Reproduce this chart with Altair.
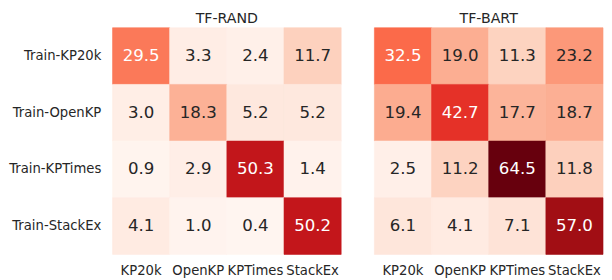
import altair as alt
import pandas as pd

rows = ["Train-KP20k", "Train-OpenKP", "Train-KPTimes", "Train-StackEx"]
cols = ["KP20k", "OpenKP", "KPTimes", "StackEx"]
panels = ["TF-RAND", "TF-BART"]
rand_vals = [
    [29.5, 3.3, 2.4, 11.7],
    [3.0, 18.3, 5.2, 5.2],
    [0.9, 2.9, 50.3, 1.4],
    [4.1, 1.0, 0.4, 50.2],
]
bart_vals = [
    [32.5, 19.0, 11.3, 23.2],
    [19.4, 42.7, 17.7, 18.7],
    [2.5, 11.2, 64.5, 11.8],
    [6.1, 4.1, 7.1, 57.0],
]
# ColorBrewer "Reds" (9-class) stops, as used by matplotlib
reds9 = ["#fff5f0", "#fee0d2", "#fcbba1", "#fc9272", "#fb6a4a",
         "#ef3b2c", "#cb181d", "#a50f15", "#67000d"]

FONT = "DejaVu Sans"
TXT = "#262626"


def make_df(vals):
    recs = []
    for i, r in enumerate(rows):
        for j, c in enumerate(cols):
            recs.append({"train": r, "test": c, "value": vals[i][j],
                         "label": f"{vals[i][j]:.1f}"})
    return pd.DataFrame(recs)


all_vals = [v for m in (rand_vals, bart_vals) for row in m for v in row]
vmin, vmax = min(all_vals), max(all_vals)
stops = [vmin + k * (vmax - vmin) / (len(reds9) - 1) for k in range(len(reds9))]
color_scale = alt.Scale(domain=stops, range=reds9, interpolate="rgb")


def panel(vals, title, show_y):
    df = make_df(vals)
    yaxis = alt.Axis(title=None, ticks=False, domain=False, labelPadding=12,
                     labelFontSize=13.5, labelFont=FONT, labelColor=TXT,
                     labelLimit=200) if show_y else None
    base = alt.Chart(df).encode(
        x=alt.X("test:N", sort=cols,
                axis=alt.Axis(title=None, orient="bottom", labelAngle=0, ticks=False,
                              domain=False, labelPadding=10, labelFontSize=13.5,
                              labelFont=FONT, labelColor=TXT)),
        y=alt.Y("train:N", sort=rows, axis=yaxis),
    )
    rect = base.mark_rect(strokeWidth=0.6).encode(
        color=alt.Color("value:Q", scale=color_scale, legend=None),
        stroke=alt.Stroke("value:Q", scale=color_scale, legend=None),
    )
    text = base.mark_text(font=FONT, fontSize=17, baseline="middle").encode(
        text="label:N",
        color=alt.condition(alt.datum.value > 25, alt.value("white"), alt.value(TXT)),
    )
    return (rect + text).properties(
        width=234, height=232,
        title=alt.TitleParams(title, font=FONT, fontSize=14.5, fontWeight="normal",
                              color=TXT, anchor="middle", offset=1),
    )


chart = alt.hconcat(
    panel(rand_vals, panels[0], True),
    panel(bart_vals, panels[1], False),
    spacing=32,
).properties(padding=0).configure_view(stroke=None)

chart.save("out.html", embed_options={"renderer": "svg", "actions": False})
